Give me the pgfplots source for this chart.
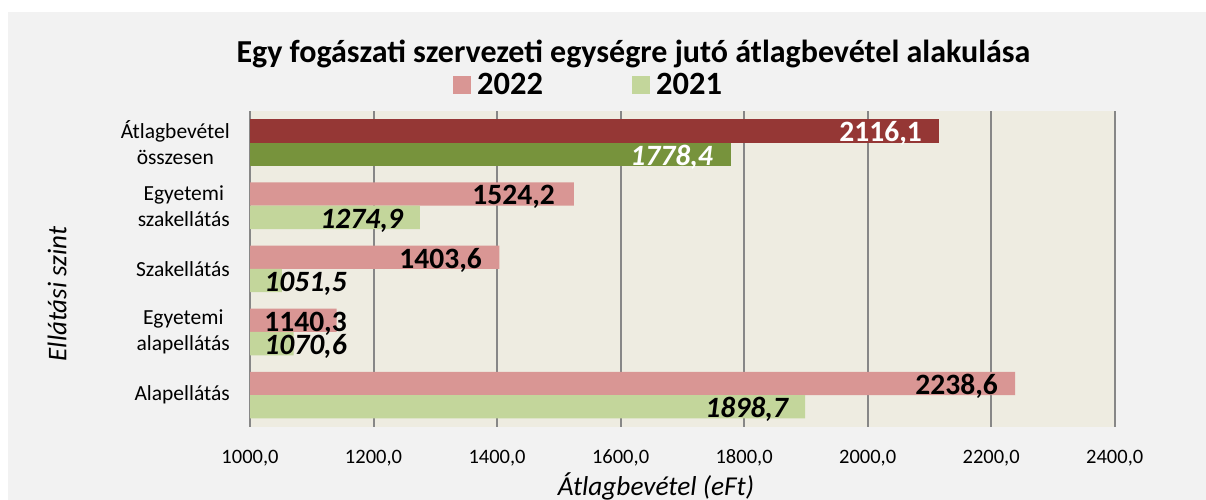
\documentclass[border=0pt]{standalone}
\usepackage{fontspec}
\setmainfont{Carlito}
\usepackage{pgfplots}
\pgfplotsset{compat=1.18}
\definecolor{bgout}{HTML}{F2F2F2}
\definecolor{plotbg}{HTML}{EEECE1}
\definecolor{darkred}{HTML}{953735}
\definecolor{pinkbar}{HTML}{D99694}
\definecolor{darkgreen}{HTML}{77933C}
\definecolor{lightgreen}{HTML}{C3D69B}
\definecolor{gridgray}{HTML}{878787}
\tikzset{lbl/.style={anchor=east, inner sep=0pt, text depth=0pt, yshift=-1pt}}
\begin{document}
\begin{tikzpicture}[x=1pt,y=1pt]
\fill[white] (0,0) rectangle (1206,500);
\fill[bgout] (8,0) rectangle (1206,488);
\begin{axis}[
  at={(250pt,73.3pt)}, anchor=south west, scale only axis,
  width=864.7pt, height=315.7pt,
  xmin=1000, xmax=2400, ymin=-0.5, ymax=4.5,
  axis background/.style={fill=plotbg},
  xtick={1000,1200,...,2400},
  ytick={0,1,2,3,4},
  yticklabels={Alapellátás,{Egyetemi\\alapellátás},Szakellátás,{Egyetemi\\szakellátás},{Átlagbevétel\\összesen}},
  major tick length=0pt,
  xmajorgrids, major grid style={draw=gridgray, line width=2pt},
  axis x line*=bottom, axis y line*=left,
  x axis line style={draw=none},
  y axis line style={draw=gridgray, line width=2pt},
  /pgf/number format/assume math mode=true,
  xticklabel style={/pgf/number format/.cd, fixed, fixed zerofill, precision=1, use comma, 1000 sep={}, /tikz/.cd,
     font=\fontsize{20.5}{24}\selectfont, inner sep=0pt, yshift=-23pt},
  yticklabel style={align=center, font=\fontsize{21.5}{26}\selectfont, inner sep=0pt, xshift=-20pt},
  legend columns=2,
  legend style={at={(0.2348,1.0825)}, anchor=west, draw=none, fill=none, inner sep=0pt,
     font=\bfseries\fontsize{32.5}{38}\selectfont, nodes={inner xsep=6pt, inner ysep=0pt}},
  legend image code/.code={\fill[#1] (0pt,-9pt) rectangle (18pt,9pt);},
]
\addplot[xbar, bar width=23.3pt, bar shift=11.65pt, fill=pinkbar, draw=none]
  coordinates {(2238.6,0) (1140.3,1) (1403.6,2) (1524.2,3)};
\addlegendentry{\makebox[149pt][l]{2022}}
\addplot[xbar, bar width=23.3pt, bar shift=-11.65pt, fill=lightgreen, draw=none]
  coordinates {(1898.7,0) (1070.6,1) (1051.5,2) (1274.9,3)};
\addlegendentry{2021}
\addplot[xbar, bar width=23.3pt, bar shift=11.65pt, fill=darkred, draw=none, forget plot]
  coordinates {(2116.1,4)};
\addplot[xbar, bar width=23.3pt, bar shift=-11.65pt, fill=darkgreen, draw=none, forget plot]
  coordinates {(1778.4,4)};
% data labels
\addplot[forget plot, draw=none, mark=none, nodes near coords, point meta=explicit symbolic,
  every node near coord/.style={lbl, text=white, font=\bfseries\fontsize{29.5}{34}\selectfont}]
  coordinates {(2088.0,4.1845) [{2116,1}]};
\addplot[forget plot, draw=none, mark=none, nodes near coords, point meta=explicit symbolic,
  every node near coord/.style={lbl, text=white, font=\bfseries\itshape\fontsize{29.5}{34}\selectfont}]
  coordinates {(1749.6,3.8155) [{1778,4}]};
\addplot[forget plot, draw=none, mark=none, nodes near coords, point meta=explicit symbolic,
  every node near coord/.style={lbl, text=black, font=\bfseries\fontsize{29.5}{34}\selectfont}]
  coordinates {(2211.1,0.1845) [{2238,6}] (1157.0,1.1845) [{1140,3}] (1375.6,2.1845) [{1403,6}] (1493.8,3.1845) [{1524,2}]};
\addplot[forget plot, draw=none, mark=none, nodes near coords, point meta=explicit symbolic,
  every node near coord/.style={lbl, text=black, font=\bfseries\itshape\fontsize{29.5}{34}\selectfont}]
  coordinates {(1871.1,-0.1845) [{1898,7}] (1157.0,0.8155) [{1070,6}] (1157.0,1.8155) [{1051,5}] (1247.7,2.8155) [{1274,9}]};
\end{axis}
\node[anchor=base, font=\bfseries\fontsize{32}{38}\selectfont, inner sep=0pt] at (633.5,437) {Egy fogászati szervezeti egységre jutó átlagbevétel alakulása};
\node[anchor=base, font=\itshape\fontsize{27.3}{32}\selectfont, inner sep=0pt] at (656,5) {Átlagbevétel (eFt)};
\node[rotate=90, font=\itshape\fontsize{27}{32}\selectfont, inner sep=0pt] at (57,206) {Ellátási szint};
\end{tikzpicture}
\end{document}
